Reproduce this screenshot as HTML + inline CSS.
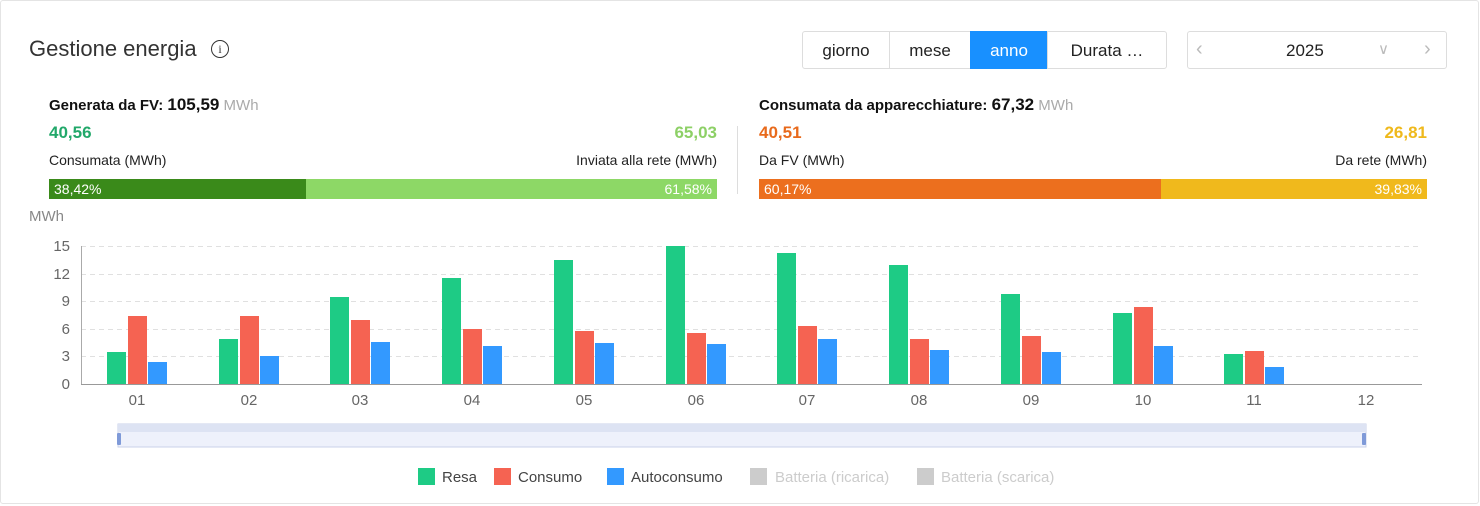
<!DOCTYPE html>
<html><head><meta charset="utf-8"><style>
body{margin:0;width:1480px;height:506px;background:#fff;font-family:"Liberation Sans",sans-serif;position:relative;overflow:hidden}
.a{position:absolute;white-space:nowrap}
.r{position:absolute;white-space:nowrap;text-align:right}
.card{position:absolute;left:0;top:0;width:1477px;height:502px;border:1px solid #e4e4e4;border-radius:3px}
.btn{position:absolute;top:31px;height:38px;line-height:38px;text-align:center;font-size:17px;color:#222;border:1px solid #ddd;box-sizing:border-box}
</style></head><body>
<div class="card"></div>
<div class="a" style="left:29px;top:36px;font-size:22px;color:#333">Gestione energia</div>
<div class="a" style="left:211px;top:40px;width:16px;height:16px;border:1.5px solid #333;border-radius:50%;font-size:12px;line-height:16px;text-align:center;color:#333;font-family:'Liberation Serif',serif">i</div>

<div class="btn" style="left:802px;width:88px;border-radius:3px 0 0 3px">giorno</div>
<div class="btn" style="left:889px;width:82px">mese</div>
<div class="btn" style="left:970px;width:78px;background:#1890ff;color:#fff;border-color:#1890ff">anno</div>
<div class="btn" style="left:1047px;width:120px;border-radius:0 3px 3px 0">Durata …</div>
<div class="btn" style="left:1187px;width:260px;border-radius:3px"></div>
<div class="a" style="left:1196px;top:38px;font-size:20px;color:#bbb">&lsaquo;</div>
<div class="a" style="left:1286px;top:41px;font-size:17px;color:#222">2025</div>
<div class="a" style="left:1378px;top:40px;font-size:15px;color:#bbb">&#x2228;</div>
<div class="a" style="left:1424px;top:38px;font-size:20px;color:#bbb">&rsaquo;</div>

<div class="a" style="left:49px;top:95px;font-size:15px;color:#111"><b>Generata da FV: </b><b style="font-size:17px">105,59</b> <span style="color:#aaa">MWh</span></div>
<div class="a" style="left:49px;top:123px;font-size:17px;font-weight:bold;color:#22a86a">40,56</div>
<div class="r" style="right:763px;top:123px;font-size:17px;font-weight:bold;color:#8dd066">65,03</div>
<div class="a" style="left:49px;top:152px;font-size:14px;color:#222">Consumata (MWh)</div>
<div class="r" style="right:763px;top:152px;font-size:14px;color:#222">Inviata alla rete (MWh)</div>
<div class="a" style="left:49px;top:179px;width:257px;height:20px;background:#3a8a1a;color:#fff;font-size:14px;line-height:20px;padding-left:5px;box-sizing:border-box">38,42%</div>
<div class="a" style="left:306px;top:179px;width:411px;height:20px;background:#8dd866;color:#fff;font-size:14px;line-height:20px;text-align:right;padding-right:5px;box-sizing:border-box">61,58%</div>

<div class="a" style="left:737px;top:126px;width:1px;height:68px;background:#ddd"></div>

<div class="a" style="left:759px;top:95px;font-size:15px;color:#111"><b>Consumata da apparecchiature: </b><b style="font-size:17px">67,32</b> <span style="color:#aaa">MWh</span></div>
<div class="a" style="left:759px;top:123px;font-size:17px;font-weight:bold;color:#e86a1c">40,51</div>
<div class="r" style="right:53px;top:123px;font-size:17px;font-weight:bold;color:#efb91c">26,81</div>
<div class="a" style="left:759px;top:152px;font-size:14px;color:#222">Da FV (MWh)</div>
<div class="r" style="right:53px;top:152px;font-size:14px;color:#222">Da rete (MWh)</div>
<div class="a" style="left:759px;top:179px;width:402px;height:20px;background:#ec6f1e;color:#fff;font-size:14px;line-height:20px;padding-left:5px;box-sizing:border-box">60,17%</div>
<div class="a" style="left:1161px;top:179px;width:266px;height:20px;background:#f0b91c;color:#fff;font-size:14px;line-height:20px;text-align:right;padding-right:5px;box-sizing:border-box">39,83%</div>

<svg class="a" style="left:0;top:0" width="1480" height="506" font-family="Liberation Sans, sans-serif">
<text x="29" y="221" font-size="15" fill="#888">MWh</text>
<g stroke="#e0e0e0" stroke-dasharray="5,4">
<line x1="81" x2="1422" y1="246.5" y2="246.5"/><line x1="81" x2="1422" y1="274.5" y2="274.5"/>
<line x1="81" x2="1422" y1="301.5" y2="301.5"/><line x1="81" x2="1422" y1="329.5" y2="329.5"/>
<line x1="81" x2="1422" y1="356.5" y2="356.5"/></g>
<line x1="81.5" x2="81.5" y1="246" y2="384" stroke="#aaa"/>
<line x1="81" x2="1422" y1="384.5" y2="384.5" stroke="#999"/>
<g font-size="15" fill="#666" text-anchor="end">
<text x="70" y="251">15</text><text x="70" y="279">12</text><text x="70" y="306">9</text>
<text x="70" y="334">6</text><text x="70" y="361">3</text><text x="70" y="389">0</text></g>
<g font-size="15" fill="#666" text-anchor="middle">
<text x="137" y="405">01</text><text x="249" y="405">02</text><text x="360" y="405">03</text>
<text x="472" y="405">04</text><text x="584" y="405">05</text><text x="696" y="405">06</text>
<text x="807" y="405">07</text><text x="919" y="405">08</text><text x="1031" y="405">09</text>
<text x="1143" y="405">10</text><text x="1254" y="405">11</text><text x="1366" y="405">12</text></g>
<g fill="#1ecb85">
<rect x="107" y="352" width="19" height="32"/><rect x="219" y="339" width="19" height="45"/>
<rect x="330" y="297" width="19" height="87"/><rect x="442" y="278" width="19" height="106"/>
<rect x="554" y="260" width="19" height="124"/><rect x="666" y="246" width="19" height="138"/>
<rect x="777" y="253" width="19" height="131"/><rect x="889" y="265" width="19" height="119"/>
<rect x="1001" y="294" width="19" height="90"/><rect x="1113" y="313" width="19" height="71"/>
<rect x="1224" y="354" width="19" height="30"/></g>
<g fill="#f56352">
<rect x="128" y="316" width="19" height="68"/><rect x="240" y="316" width="19" height="68"/>
<rect x="351" y="320" width="19" height="64"/><rect x="463" y="329" width="19" height="55"/>
<rect x="575" y="331" width="19" height="53"/><rect x="687" y="333" width="19" height="51"/>
<rect x="798" y="326" width="19" height="58"/><rect x="910" y="339" width="19" height="45"/>
<rect x="1022" y="336" width="19" height="48"/><rect x="1134" y="307" width="19" height="77"/>
<rect x="1245" y="351" width="19" height="33"/></g>
<g fill="#3399ff">
<rect x="148" y="362" width="19" height="22"/><rect x="260" y="356" width="19" height="28"/>
<rect x="371" y="342" width="19" height="42"/><rect x="483" y="346" width="19" height="38"/>
<rect x="595" y="343" width="19" height="41"/><rect x="707" y="344" width="19" height="40"/>
<rect x="818" y="339" width="19" height="45"/><rect x="930" y="350" width="19" height="34"/>
<rect x="1042" y="352" width="19" height="32"/><rect x="1154" y="346" width="19" height="38"/>
<rect x="1265" y="367" width="19" height="17"/></g>
<rect x="118" y="424" width="1248" height="23" fill="#eef1fb" stroke="#c9d1ea"/>
<rect x="118" y="424" width="1248" height="8" fill="#dde3f3"/>
<rect x="117" y="433" width="4" height="12" rx="1" fill="#7f9ad8"/>
<rect x="1362" y="433" width="4" height="12" rx="1" fill="#7f9ad8"/>
<g font-size="15">
<rect x="418" y="468" width="17" height="17" fill="#1ecb85"/><text x="442" y="482" fill="#444">Resa</text>
<rect x="494" y="468" width="17" height="17" fill="#f56352"/><text x="518" y="482" fill="#444">Consumo</text>
<rect x="607" y="468" width="17" height="17" fill="#3399ff"/><text x="631" y="482" fill="#444">Autoconsumo</text>
<rect x="750" y="468" width="17" height="17" fill="#ccc"/><text x="775" y="482" fill="#ccc">Batteria (ricarica)</text>
<rect x="917" y="468" width="17" height="17" fill="#ccc"/><text x="941" y="482" fill="#ccc">Batteria (scarica)</text>
</g>
</svg>
</body></html>
